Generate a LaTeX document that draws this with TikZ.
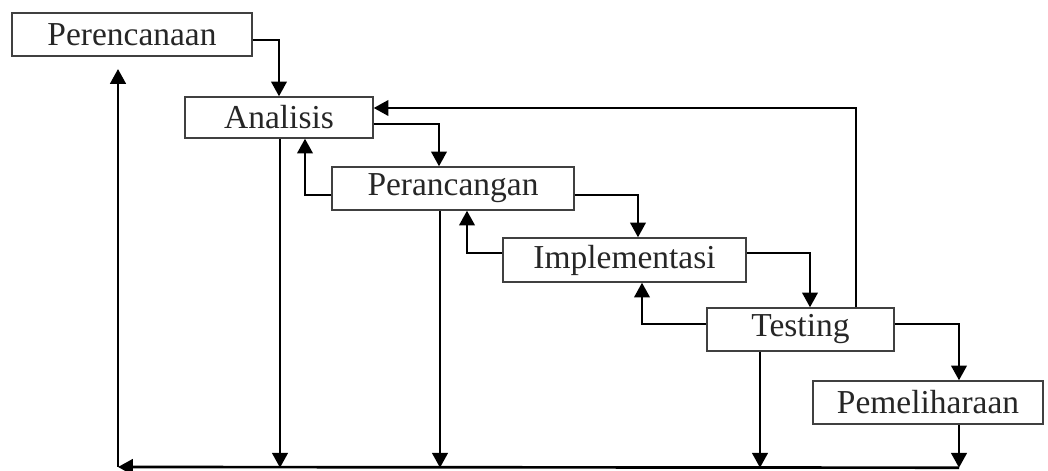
\documentclass[tikz,border=0pt]{standalone}
\usepackage{fontspec}
\setmainfont{Liberation Serif}
\usetikzlibrary{calc,arrows.meta}

\tikzset{
  tahap/.style={draw=black!75, line width=1pt, rectangle, inner sep=0pt,
    font=\fontsize{23.8}{28}\selectfont, text=black!85},
  alur/.style={line width=1.9pt, -{Triangle[length=10.5pt,width=11pt]}}
}

\begin{document}
\begin{tikzpicture}[x=0.025cm,y=-0.025cm]
        \useasboundingbox (0,0) rectangle (1048,471);

        \node[tahap, minimum width=240*0.025cm, minimum height=43*0.025cm] (Perencanaan) at (132,34.5) {Perencanaan};
        \node[tahap, minimum width=188*0.025cm, minimum height=41*0.025cm] (Analisis) at (279,117.5) {Analisis};
        \node[tahap, minimum width=242*0.025cm, minimum height=43*0.025cm] (Perancangan) at (453,188.5) {Perancangan};
        \node[tahap, minimum width=243*0.025cm, minimum height=44*0.025cm] (Implementasi) at (624.5,260) {Implementasi};
        \node[tahap, minimum width=187*0.025cm, minimum height=43*0.025cm] (Testing) at (800.5,329.5) {Testing};
        \node[tahap, minimum width=230*0.025cm, minimum height=43*0.025cm] (Pemeliharaan) at (928,402.5) {Pemeliharaan};

        \coordinate (sudut) at (118,467);
        \coordinate (puncak) at (118,69);

        \path[draw,alur] ($(Perencanaan.east)+(0,5.5)$) -| (Analisis.north);
        \path[draw,alur] ($(Analisis.east)+(0,6.5)$) -| ($(Perancangan.north)+(-14,0)$);
        \path[draw,alur] ($(Perancangan.east)+(0,6.5)$) -| ($(Implementasi.north)+(13.5,0)$);
        \path[draw,alur] ($(Implementasi.east)+(0,-7)$) -| ($(Testing.north)+(9.5,0)$);
        \path[draw,alur] ($(Testing.east)+(0,-5.5)$) -| ($(Pemeliharaan.north)+(31,0)$);

        \path[draw,alur] ($(Perancangan.west)+(0,6.5)$) -| ($(Analisis.south)+(26,0)$);
        \path[draw,alur] ($(Implementasi.west)+(0,-7)$) -| ($(Perancangan.south)+(14,0)$);
        \path[draw,alur] ($(Testing.west)+(0,-5.5)$) -| ($(Implementasi.south)+(17.5,0)$);
        \path[draw,alur] ($(Testing.north)+(55.5,0)$) |- ($(Analisis.east)+(0,-9.5)$);

        \path[draw,alur] ($(Analisis.south)+(1,0)$) -- ++(0,329);
        \path[draw,alur] ($(Perancangan.south)+(-13,0)$) -- ++(0,257);
        \path[draw,alur] ($(Testing.south)+(-40.5,0)$) -- ++(0,116);
        \path[draw,alur] ($(Pemeliharaan.south)+(31,0)$) -- ++(0,43);

        \path[draw,alur] ($(Pemeliharaan.south)+(31,43)$) -- (sudut);
        \path[draw,alur] (sudut) -- (puncak);

    \end{tikzpicture}
\end{document}
